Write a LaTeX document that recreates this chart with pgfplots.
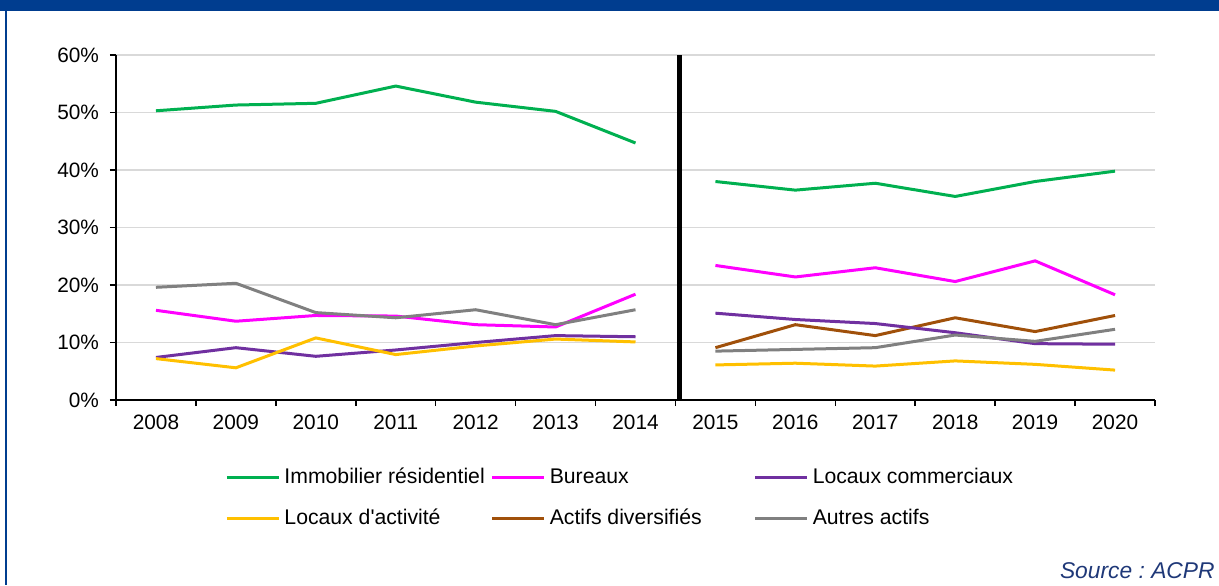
\documentclass[border=0pt]{standalone}
\usepackage{fontspec}
\setmainfont{Liberation Sans}
\usepackage{pgfplots}
\pgfplotsset{compat=1.18}
\definecolor{framebl}{RGB}{0,61,143}
\definecolor{srcbl}{RGB}{31,56,120}
\definecolor{cgreen}{RGB}{0,176,80}
\definecolor{cpink}{RGB}{255,0,255}
\definecolor{cpurple}{RGB}{112,48,160}
\definecolor{cyellow}{RGB}{255,192,0}
\definecolor{cbrown}{RGB}{160,80,10}
\definecolor{cgrey}{RGB}{128,128,128}
\frenchspacing
\begin{document}
\begin{tikzpicture}[font=\fontsize{10.4}{12}\selectfont]
% frame: 1px = 0.5pt, 1219x585
\useasboundingbox (0,0) rectangle (609.5pt,292.5pt);
\fill[framebl] (0,287pt) rectangle (609.5pt,292.5pt);
\fill[framebl] (2.5pt,0) rectangle (3.5pt,292.5pt);
\begin{axis}[
    scale only axis,
    width=519.5pt, height=172.5pt,
    at={(58pt,92.5pt)}, anchor=south west,
    xmin=-0.5, xmax=12.5,
    ymin=0, ymax=60,
    axis x line*=bottom, axis y line*=left,
    axis line style={line width=0.8pt},
    xtick={0,...,12},
    xticklabels={2008,2009,2010,2011,2012,2013,2014,2015,2016,2017,2018,2019,2020},
    minor xtick={-0.5,0.5,...,12.5},
    major x tick style={draw=none},
    minor tick length=3pt,
    major tick length=3pt,
    tick align=outside,
    tick style={black, line width=0.8pt},
    ytick={0,10,...,60},
    yticklabels={0\%,10\%,20\%,30\%,40\%,50\%,60\%},
    ymajorgrids,
    grid style={black!15, line width=0.75pt},
    xticklabel style={yshift=-1pt},
    yticklabel style={xshift=-2pt},
    legend columns=3,
    legend cell align=left,
    legend style={draw=none, fill=none, at={(0.105,-0.185)}, anchor=north west,
        row sep=7pt, inner sep=0pt, font=\fontsize{10.6}{12}\selectfont,
        /tikz/column 2/.style={column sep=1pt},
        /tikz/column 4/.style={column sep=24pt}},
    legend image code/.code={\draw[#1, line width=1.5pt] (0pt,0pt) -- (26pt,0pt);},
    every axis plot/.append style={line width=1.5pt},
]
\addplot[cgreen] coordinates {(0,50.3) (1,51.3) (2,51.6) (3,54.6) (4,51.8) (5,50.2) (6,44.7)};
\addlegendentry{Immobilier résidentiel}
\addplot[cpink] coordinates {(0,15.6) (1,13.7) (2,14.7) (3,14.6) (4,13.1) (5,12.7) (6,18.4)};
\addlegendentry{Bureaux}
\addplot[cpurple] coordinates {(0,7.4) (1,9.1) (2,7.6) (3,8.7) (4,10.0) (5,11.2) (6,11.0)};
\addlegendentry{Locaux commerciaux}
\addplot[cyellow] coordinates {(0,7.2) (1,5.6) (2,10.8) (3,7.9) (4,9.4) (5,10.6) (6,10.1)};
\addlegendentry{Locaux d\textquotesingle activité}
\addlegendimage{cbrown}
\addlegendentry{Actifs diversifiés}
\addplot[cgrey] coordinates {(0,19.6) (1,20.3) (2,15.2) (3,14.3) (4,15.7) (5,13.1) (6,15.7)};
\addlegendentry{Autres actifs}
% 2015-2020
\addplot[cgreen, forget plot] coordinates {(7,38.0) (8,36.5) (9,37.7) (10,35.4) (11,38.0) (12,39.8)};
\addplot[cpink, forget plot] coordinates {(7,23.4) (8,21.4) (9,23.0) (10,20.6) (11,24.2) (12,18.3)};
\addplot[cbrown, forget plot] coordinates {(7,9.1) (8,13.1) (9,11.2) (10,14.3) (11,11.9) (12,14.7)};
\addplot[cpurple, forget plot] coordinates {(7,15.1) (8,14.0) (9,13.3) (10,11.7) (11,9.8) (12,9.7)};
\addplot[cgrey, forget plot] coordinates {(7,8.5) (8,8.8) (9,9.1) (10,11.3) (11,10.2) (12,12.3)};
\addplot[cyellow, forget plot] coordinates {(7,6.1) (8,6.4) (9,5.9) (10,6.8) (11,6.2) (12,5.2)};
% break between the two periods
\addplot[black, line width=2.5pt, forget plot] coordinates {(6.55,0) (6.55,60)};
\end{axis}
\node[anchor=base east, inner sep=0pt, text=srcbl, font=\fontsize{11.4}{13}\selectfont\itshape] at (607.5pt,3.5pt) {Source : ACPR};
\end{tikzpicture}
\end{document}
